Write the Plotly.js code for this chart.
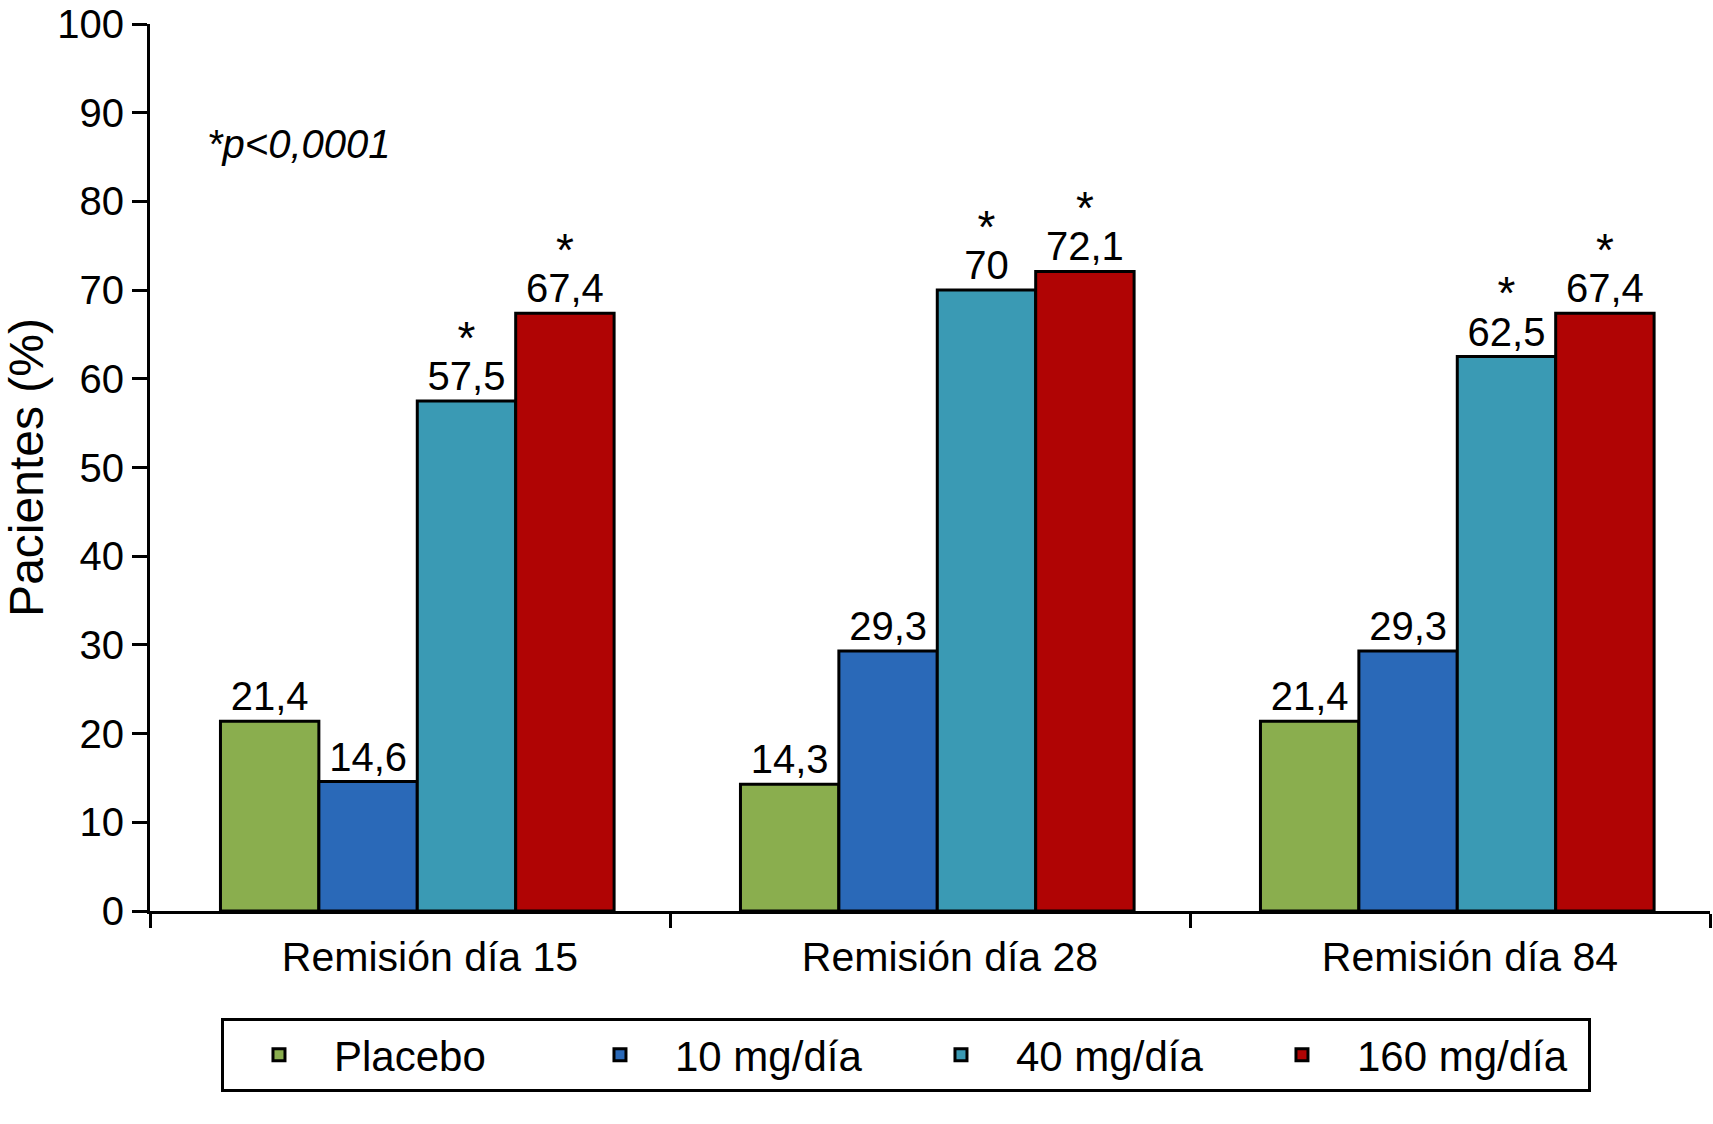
<!DOCTYPE html>
<html>
<head>
<meta charset="utf-8">
<script src="https://cdn.plot.ly/plotly-3.0.1.min.js"></script>
<style>
  html, body { margin: 0; padding: 0; background: #ffffff; }
  #chart { width: 1713px; height: 1124px; }
</style>
</head>
<body>
<div id="chart"></div>
<script>
// categories and series
var categories = ['Remisión día 15', 'Remisión día 28', 'Remisión día 84'];
var placebo = [21.4, 14.3, 21.4];
var mg10 = [14.6, 29.3, 29.3];
var mg40 = [57.5, 70, 62.5];
var mg160 = [67.4, 72.1, 67.4];
var seriesNames = ['Placebo', '10 mg/día', '40 mg/día', '160 mg/día'];
var seriesColors = ['#8AAE4E', '#2A69B8', '#3A9AB4', '#B00404'];
var significant = [false, false, true, true];

var fontFamily = '"Liberation Sans", Arial, Helvetica, sans-serif';
var values = [placebo, mg10, mg40, mg160];

// bar geometry inside each category (groups sit a little right of centre)
var barGap = 0.243;
var barW = (1 - barGap) / values.length;
var groupShift = 0.014;

// value label; the small base font keeps the asterisk line close to the number
var numberTpl = '<span style="font-size:40px">%{y}</span>';
var starTpl = '<span style="font-size:46px">*</span><br>' + numberTpl;

var traces = [];
for (let i = 0; i < values.length; i++) {
    var off = -(1 - barGap) / 2 + groupShift + i * barW;
    traces.push({
        type: 'bar',
        name: seriesNames[i],
        x: categories,
        y: values[i],
        width: barW,
        offset: off,
        texttemplate: significant[i] ? starTpl : numberTpl,
        textposition: 'outside',
        constraintext: 'none',
        cliponaxis: false,
        outsidetextfont: {family: fontFamily, size: 28, color: '#000000'},
        marker: {
            color: seriesColors[i],
            line: {color: '#000000', width: 3}
        },
        hoverinfo: 'none'
    });
}

var layout = {
    width: 1713,
    height: 1124,
    margin: {l: 150, r: 3, t: 24, b: 213},
    paper_bgcolor: '#ffffff',
    plot_bgcolor: '#ffffff',
    separators: ',.',
    font: {family: fontFamily, size: 40, color: '#000000'},
    barmode: 'group',
    bargap: barGap,
    bargroupgap: 0,
    showlegend: true,
    legend: {
        orientation: 'h',
        x: 0.0455,
        xanchor: 'left',
        y: -0.1206,
        yanchor: 'top',
        bordercolor: '#000000',
        borderwidth: 3,
        font: {family: fontFamily, size: 42, color: '#000000'},
        itemwidth: 100,
        entrywidth: 226,
        traceorder: 'normal'
    },
    xaxis: {
        type: 'category',
        showline: true,
        linecolor: '#000000',
        linewidth: 3,
        ticks: 'outside',
        tickson: 'boundaries',
        ticklen: 14,
        tickwidth: 3,
        tickcolor: '#000000',
        showgrid: false,
        zeroline: false,
        ticklabelshift: 20,
        ticklabelstandoff: 8,
        tickfont: {family: fontFamily, size: 41, color: '#000000'},
        fixedrange: true
    },
    yaxis: {
        range: [0, 100],
        dtick: 10,
        showline: true,
        linecolor: '#000000',
        linewidth: 3,
        ticks: 'outside',
        ticklen: 15,
        tickwidth: 3,
        tickcolor: '#000000',
        showgrid: false,
        zeroline: false,
        tickfont: {family: fontFamily, size: 40, color: '#000000'},
        title: {text: 'Pacientes (%)', font: {family: fontFamily, size: 48, color: '#000000'}, standoff: 28},
        fixedrange: true
    },
    annotations: [{
        text: '<i>*p<0,0001</i>',
        xref: 'paper',
        yref: 'y',
        x: 0.035,
        y: 86.5,
        xanchor: 'left',
        yanchor: 'middle',
        showarrow: false,
        font: {family: fontFamily, size: 40, color: '#000000'}
    }]
};

Plotly.newPlot('chart', traces, layout, {staticPlot: true});
</script>
</body>
</html>
